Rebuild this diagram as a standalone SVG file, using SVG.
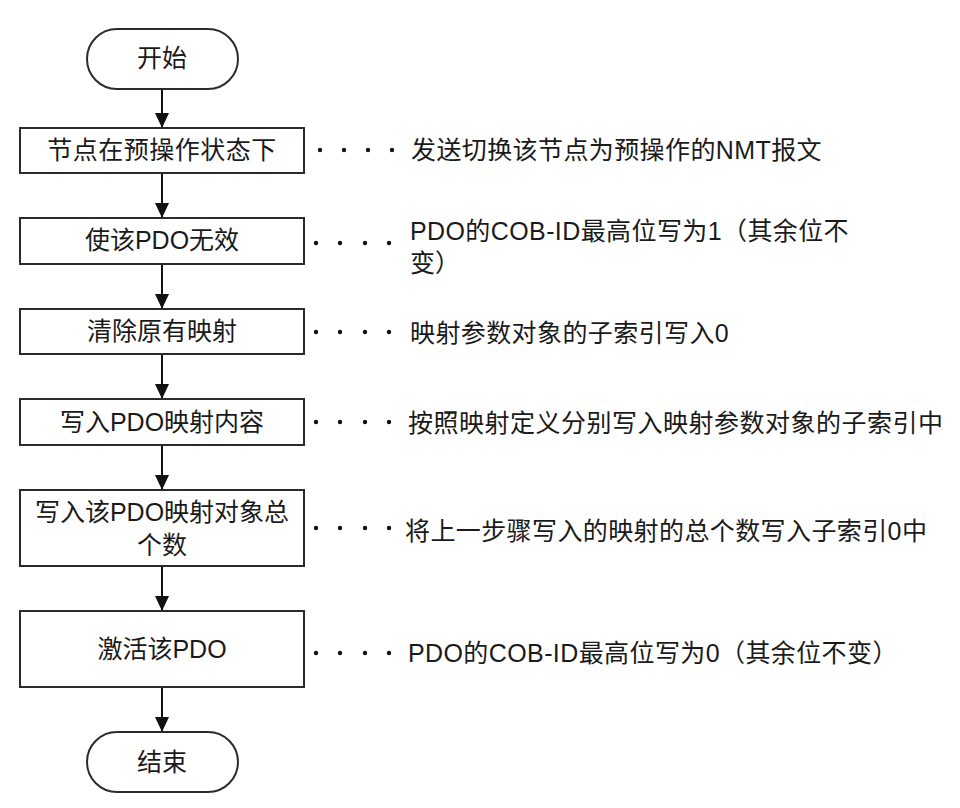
<svg xmlns="http://www.w3.org/2000/svg" width="960" height="808" viewBox="0 0 960 808">
<style>
.box{fill:#fff;stroke:#2b2b2b;stroke-width:2}
.t{font-family:"Liberation Sans","Noto Sans CJK SC",sans-serif;font-size:25px;fill:#1a1a1a;dominant-baseline:central}
.c{text-anchor:middle}
.ln{stroke:#111;stroke-width:2;fill:none}
.dot{fill:#111}
</style>
<defs>
<marker id="ah" markerUnits="userSpaceOnUse" markerWidth="15" markerHeight="14" refX="15" refY="7" orient="auto" viewBox="0 0 15 14">
<path d="M0,0 L15,7 L0,14 Z" fill="#111"/>
</marker>
</defs>
<rect width="960" height="808" fill="#fff"/>
<g id="connectors">
<line class="ln" x1="162" y1="89" x2="162" y2="128" marker-end="url(#ah)"/>
<line class="ln" x1="162" y1="173" x2="162" y2="218" marker-end="url(#ah)"/>
<line class="ln" x1="162" y1="264" x2="162" y2="309" marker-end="url(#ah)"/>
<line class="ln" x1="162" y1="354" x2="162" y2="399" marker-end="url(#ah)"/>
<line class="ln" x1="162" y1="445" x2="162" y2="490" marker-end="url(#ah)"/>
<line class="ln" x1="162" y1="566" x2="162" y2="611" marker-end="url(#ah)"/>
<line class="ln" x1="162" y1="687" x2="162" y2="732" marker-end="url(#ah)"/>
</g>
<g id="start">
<rect class="box" x="87" y="29" width="151" height="60" rx="30"/>
<text class="t c" x="162" y="58">开始</text>
</g>
<g id="n1">
<rect class="box" x="20" y="128" width="284" height="45"/>
<text class="t c" x="162" y="150" letter-spacing="0.5">节点在预操作状态下</text>
</g>
<g id="n2">
<rect class="box" x="20" y="218" width="284" height="46"/>
<text class="t c" x="162" y="240">使该PDO无效</text>
</g>
<g id="n3">
<rect class="box" x="20" y="309" width="284" height="45"/>
<text class="t c" x="162" y="331">清除原有映射</text>
</g>
<g id="n4">
<rect class="box" x="20" y="399" width="284" height="46"/>
<text class="t c" x="162" y="422">写入PDO映射内容</text>
</g>
<g id="n5">
<rect class="box" x="20" y="490" width="284" height="76"/>
<text class="t c" x="162" y="512">写入该PDO映射对象总</text>
<text class="t c" x="162" y="545">个数</text>
</g>
<g id="n6">
<rect class="box" x="20" y="611" width="284" height="76"/>
<text class="t c" x="162" y="649">激活该PDO</text>
</g>
<g id="end">
<rect class="box" x="87" y="732" width="151" height="60" rx="30"/>
<text class="t c" x="162" y="762">结束</text>
</g>
<g id="notes">
<g id="note1">
<circle class="dot" cx="320" cy="150" r="2.2"/><circle class="dot" cx="344" cy="150" r="2.2"/><circle class="dot" cx="368" cy="150" r="2.2"/><circle class="dot" cx="392" cy="150" r="2.2"/>
<text class="t" x="411" y="150" letter-spacing="0.4">发送切换该节点为预操作的NMT报文</text>
</g>
<g id="note2">
<circle class="dot" cx="316" cy="243" r="2.2"/><circle class="dot" cx="340" cy="243" r="2.2"/><circle class="dot" cx="365" cy="243" r="2.2"/><circle class="dot" cx="389" cy="243" r="2.2"/>
<text class="t" x="410" y="231" letter-spacing="0.4">PDO的COB-ID最高位写为1（其余位不</text>
<text class="t" x="410" y="263">变）</text>
</g>
<g id="note3">
<circle class="dot" cx="316" cy="332" r="2.2"/><circle class="dot" cx="340" cy="332" r="2.2"/><circle class="dot" cx="365" cy="332" r="2.2"/><circle class="dot" cx="389" cy="332" r="2.2"/>
<text class="t" x="410" y="333" letter-spacing="0.4">映射参数对象的子索引写入0</text>
</g>
<g id="note4">
<circle class="dot" cx="316" cy="422" r="2.2"/><circle class="dot" cx="340" cy="422" r="2.2"/><circle class="dot" cx="365" cy="422" r="2.2"/><circle class="dot" cx="389" cy="422" r="2.2"/>
<text class="t" x="408" y="423" letter-spacing="0.5">按照映射定义分别写入映射参数对象的子索引中</text>
</g>
<g id="note5">
<circle class="dot" cx="316" cy="528" r="2.2"/><circle class="dot" cx="340" cy="528" r="2.2"/><circle class="dot" cx="365" cy="528" r="2.2"/><circle class="dot" cx="389" cy="528" r="2.2"/>
<text class="t" x="405" y="531" letter-spacing="0.4">将上一步骤写入的映射的总个数写入子索引0中</text>
</g>
<g id="note6">
<circle class="dot" cx="316" cy="653" r="2.2"/><circle class="dot" cx="340" cy="653" r="2.2"/><circle class="dot" cx="365" cy="653" r="2.2"/><circle class="dot" cx="389" cy="653" r="2.2"/>
<text class="t" x="408" y="653" letter-spacing="0.4">PDO的COB-ID最高位写为0（其余位不变）</text>
</g>
</g>
</svg>
